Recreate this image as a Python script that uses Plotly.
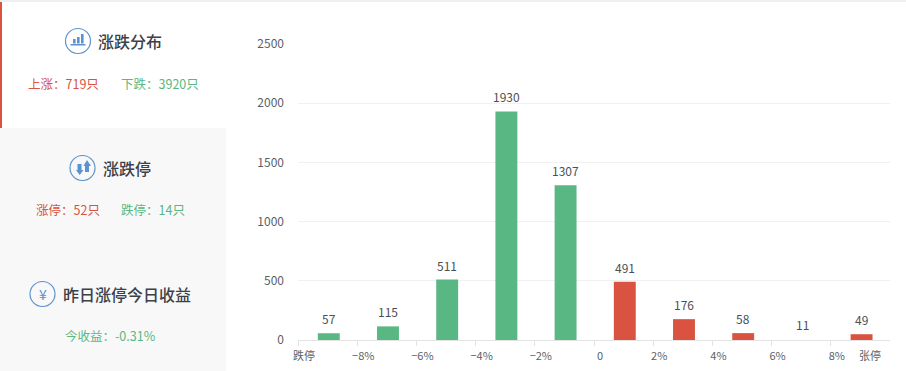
import plotly.graph_objects as go

W, H = 906, 371
L, R, T, B = 298, 16, 44, 31
FONT = "Noto Sans CJK SC, Open Sans, sans-serif"
GREEN, RED, BLUE, TEXT, AXIS = "#58b782", "#d95340", "#5b93cf", "#5a5f66", "#e3e3e3"

categories = ["跌停~-8%", "-8~-6%", "-6~-4%", "-4~-2%", "-2~0%", "0~2%", "2~4%", "4~6%", "6~8%", "8%~涨停"]
values = [57, 115, 511, 1930, 1307, 491, 176, 58, 11, 49]
bar_colors = [GREEN] * 5 + [RED] * 3 + ["rgba(0,0,0,0)"] + [RED]
y_ticks = [0, 500, 1000, 1500, 2000, 2500]
x_tick_labels = ["跌停", "−8%", "−6%", "−4%", "−2%", "0", "2%", "4%", "6%", "8%"]
x_edges = list(range(10))
last_label = "张停"


def px(x):
    return (x - L) / (W - L - R)


def py(y):
    return 1 - (y - T) / (H - T - B)


shapes, annotations = [], []


def rect(x0, y0, x1, y1, color, layer="below"):
    shapes.append(dict(type="rect", xref="paper", yref="paper", x0=px(x0), x1=px(x1), y0=py(y0), y1=py(y1),
                       fillcolor=color, line_width=0, layer=layer))


def text(x, y, s, size, color, weight="normal"):
    annotations.append(dict(xref="paper", yref="paper", x=px(x), y=py(y), text=s, showarrow=False,
                            xanchor="center", yanchor="middle",
                            font=dict(family=FONT, size=size, color=color, weight=weight)))


def ring(cx, cy, r=12.5):
    shapes.append(dict(type="circle", xref="paper", yref="paper", x0=px(cx - r), x1=px(cx + r),
                       y0=py(cy - r), y1=py(cy + r), line=dict(color=BLUE, width=1.2), fillcolor="rgba(0,0,0,0)"))


def poly(points, color):
    d = "M" + " L".join(f"{px(a):.5f},{py(b):.5f}" for a, b in points) + " Z"
    shapes.append(dict(type="path", xref="paper", yref="paper", path=d, fillcolor=color, line_width=0))


# panels
rect(0, 0, W, 2, "#eef0f0")
rect(0, 128, 226, 371, "#f8f8f8")
rect(0, 2, 2, 128, RED)

# section 1
ring(78, 41)
for x0, top in ((73, 39), (77, 37), (81, 34)):
    rect(x0, top, x0 + 2.6, 43.5, BLUE, "above")
rect(70.5, 44, 85.5, 45.5, BLUE, "above")
text(129.5, 41.5, "涨跌分布", 16, "#3c4047", 500)
text(63.5, 83, "上涨：719只", 12.5, RED)
text(160, 83, "下跌：3920只", 12.5, GREEN)

# section 2
ring(82.5, 168)
poly([(77.5, 164), (81.5, 164), (81.5, 170), (83.5, 170), (79.7, 175), (76, 170), (77.5, 170)], BLUE)
poly([(87, 160), (91, 166), (89, 166), (89, 172), (85, 172), (85, 166), (83.5, 166)], BLUE)
text(127, 167.5, "涨跌停", 16, "#3c4047", 500)
text(68, 209, "涨停：52只", 12.5, RED)
text(153, 209, "跌停：14只", 12.5, GREEN)

# section 3
ring(42.5, 294)
text(42.5, 293.5, "¥", 14, BLUE)
text(127, 293.5, "昨日涨停今日收益", 16, "#3c4047", 500)
text(110, 335, "今收益：-0.31%", 12.5, GREEN)

# value labels
for i, v in enumerate(values):
    annotations.append(dict(x=i + 0.52, y=v, xref="x", yref="y", text=str(v), showarrow=False, yanchor="bottom",
                            yshift=4, font=dict(family=FONT, size=12, color="#4a4f55")))

# last axis label sits inside the final band
annotations.append(dict(x=9.67, y=0, xref="x", yref="y", text=last_label, showarrow=False, yanchor="top",
                        yshift=-5, font=dict(family=FONT, size=11, color=TEXT)))

fig = go.Figure(go.Bar(x=[i + 0.5 for i in range(len(values))], y=values, width=0.37, offset=-0.165,
                       marker=dict(color=bar_colors, line_width=0), customdata=categories,
                       hovertemplate="%{customdata}: %{y}<extra></extra>"))
fig.update_layout(
    width=W, height=H, autosize=False, margin=dict(l=L, r=R, t=T, b=B, autoexpand=False),
    paper_bgcolor="white", plot_bgcolor="white", showlegend=False,
    font=dict(family=FONT, size=11, color=TEXT), shapes=shapes, annotations=annotations,
    xaxis=dict(range=[0, 10], tickmode="array", tickvals=x_edges, ticktext=x_tick_labels, automargin=False,
               ticks="outside", ticklen=5, tickcolor=AXIS, tickwidth=1, showgrid=False, zeroline=False,
               showline=True, linecolor=AXIS, linewidth=1, ticklabelshift=6, ticklabelstandoff=1,
               tickfont=dict(size=11, color=TEXT)),
    yaxis=dict(range=[0, 2500], tickvals=y_ticks, ticks="", showgrid=True, gridcolor="#f1f1f1", gridwidth=1,
               automargin=False, zeroline=False, showline=False, tickfont=dict(size=12, color=TEXT),
               ticklabelstandoff=13),
)
fig.write_html("out.html", config={"displayModeBar": False},
               post_script="document.body.style.margin='0';document.body.style.overflow='hidden';")
